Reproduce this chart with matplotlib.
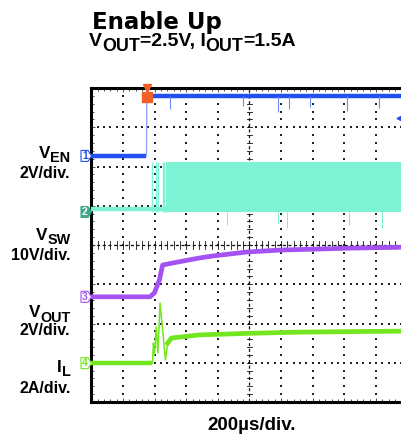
import numpy as np
import matplotlib
matplotlib.use("Agg")
import matplotlib.pyplot as plt
from matplotlib.patches import Polygon

# ---------------- data (in screen divisions) ----------------
# CH1 V_EN (2V/div)
ch1_t = [0.0, 1.74, 1.75, 10.3]
ch1_v = [6.27, 6.27, 7.80, 7.80]
ch1_spike_t = [2.47, 4.78, 5.89, 6.25, 6.90, 8.10, 9.10]
ch1_spike_v = [7.47, 7.55, 7.39, 7.46, 7.52, 7.42, 7.50]

# CH2 V_SW (10V/div)
ch2_base = 4.92
ch2_low = 4.84
ch2_high = 6.11
ch2_sparse_t = [1.90, 2.03, 2.12, 2.25, 2.31, 2.37]
ch2_dense_start = 2.40
ch2_spike_t = [4.30, 5.89, 6.20, 8.16, 9.20]
ch2_spike_v = [4.51, 4.56, 4.43, 4.51, 4.43]

# CH3 V_OUT (2V/div)
ch3_t = [0.0, 1.85, 1.99, 2.15, 2.25, 2.56, 3.42, 3.83, 4.90, 5.95, 8.20, 10.3]
ch3_v = [2.68, 2.68, 2.78, 3.11, 3.49, 3.54, 3.67, 3.72, 3.82, 3.87, 3.92, 3.95]

# CH4 I_L (2A/div)
ch4_t = [0.0, 1.93, 1.96, 1.99, 2.05, 2.10, 2.17, 2.22, 2.28, 2.34, 2.41, 2.53, 3.42, 5.00, 6.60, 10.3]
ch4_v = [0.99, 0.99, 1.50, 1.20, 1.91, 1.25, 2.52, 2.10, 1.58, 1.07, 1.50, 1.63, 1.71, 1.75, 1.78, 1.81]

ch_offsets = [6.27, 4.84, 2.68, 0.99]
ch_names = ["1", "2", "3", "4"]
trigger_t = 1.77
trigger_level = 7.24

BLUE = "#2350f0"
CYAN = "#7ef3d3"
PURPLE = "#a552f2"
GREEN = "#72e61e"
ORANGE = "#f2602a"

W, H = 402, 434
fig = plt.figure(figsize=(W / 100, H / 100), dpi=100)

X0, Y0 = 91.5, 402.0
DX, DY = 31.6, 39.25
ax = fig.add_axes([X0 / W, (H - Y0) / H, 10 * DX / W, 8 * DY / H])
ax.set_xlim(0, 10)
ax.set_ylim(0, 8)
for s in ax.spines.values():
    s.set_linewidth(2.2)
    s.set_color("black")
ax.set_xticks(np.arange(0, 10.01, 1))
ax.set_yticks(np.arange(0, 8.01, 1))
ax.set_xticks(np.arange(0, 10.01, 0.2), minor=True)
ax.set_yticks(np.arange(0, 8.01, 0.2), minor=True)
ax.tick_params(which="both", direction="in", top=True, bottom=True, left=True, right=False,
               labelbottom=False, labelleft=False, length=2.2, width=0.6, color="#333333")
ax.tick_params(which="major", length=3.0)

# grid dots
gx = np.arange(0, 10.01, 0.2)
gy = np.arange(0, 8.01, 0.2)
for i in range(1, 10):
    if i == 5:
        continue
    ax.scatter(np.full_like(gy, i), gy, s=0.9, marker="s", color="#222222", linewidths=0, zorder=1)
for j in range(1, 8):
    if j == 4:
        continue
    ax.scatter(gx, np.full_like(gx, j), s=0.9, marker="s", color="#222222", linewidths=0, zorder=1)
# centre lines with cross ticks
ax.plot([5, 5], [0, 8], color="#111111", lw=0.9, ls=(0, (2.5, 2)), zorder=1)
ax.plot([0, 10], [4, 4], color="#111111", lw=0.9, ls=(0, (2.5, 2)), zorder=1)
for yv in gy:
    ax.plot([4.93, 5.07], [yv, yv], color="#111111", lw=0.6, zorder=1)
for xv in gx:
    ax.plot([xv, xv], [3.91, 4.09], color="#111111", lw=0.6, zorder=1)

# CH2 switching
ax.plot([0, ch2_dense_start], [ch2_base, ch2_base], color=CYAN, lw=3.2, zorder=3, solid_capstyle="butt")
ax.fill_between([ch2_dense_start, 10.3], ch2_low, ch2_high, color=CYAN, lw=0, zorder=3)
ax.vlines(ch2_sparse_t, ch2_low, ch2_high, color=CYAN, lw=1.0, zorder=3)
ax.vlines(ch2_spike_t, ch2_spike_v, ch2_low, color=CYAN, lw=0.8, zorder=3)

# CH1
ax.plot(ch1_t[:2], ch1_v[:2], color=BLUE, lw=3.2, zorder=4, solid_capstyle="butt")
ax.plot(ch1_t[1:3], ch1_v[1:3], color="#8fa8ff", lw=1.0, zorder=4)
ax.plot(ch1_t[2:], ch1_v[2:], color=BLUE, lw=3.2, zorder=4, solid_capstyle="butt")
ax.vlines(ch1_spike_t, ch1_spike_v, ch1_v[-1], color="#6f8cff", lw=0.8, zorder=4)

# CH3
ax.plot(ch3_t, ch3_v, color=PURPLE, lw=3.4, zorder=4, solid_joinstyle="round")

# CH4
ax.plot(ch4_t[:2], ch4_v[:2], color=GREEN, lw=3.2, zorder=4, solid_capstyle="butt")
ax.plot(ch4_t[1:11], ch4_v[1:11], color=GREEN, lw=1.1, zorder=4)
ax.plot(ch4_t[10:], ch4_v[10:], color=GREEN, lw=3.4, zorder=4, solid_joinstyle="round")

# trigger markers
ax.plot([trigger_t], [8.0], marker="v", ms=5.5, color=ORANGE, clip_on=False, zorder=6)
ax.plot([trigger_t], [7.78], marker="s", ms=6.5, color=ORANGE, clip_on=False, zorder=6)
ax.plot([9.73], [trigger_level], marker="<", ms=3.5, color=BLUE, clip_on=False, zorder=6)


def fx(px):
    return px / W


def fy(py):
    return (H - py) / H


# channel ground markers
mk_colors = [BLUE, "#3aa98a", PURPLE, GREEN]
mk_filled = [False, True, False, False]
for name, off, c, filled in zip(ch_names, ch_offsets, mk_colors, mk_filled):
    py = Y0 - off * DY
    pts = [(81, py - 5.5), (88, py - 5.5), (91.5, py), (88, py + 5.5), (81, py + 5.5)]
    poly = Polygon([(fx(a), fy(b)) for a, b in pts], closed=True, transform=fig.transFigure,
                   facecolor=c if filled else "white", edgecolor=c, lw=0.8, zorder=7)
    fig.add_artist(poly)
    fig.text(fx(85.0), fy(py + 0.3), name, color="white" if filled else c, fontsize=7.5,
             fontweight="bold", ha="center", va="center", family="Liberation Sans", zorder=8)

# ---------------- text ----------------
renderer = fig.canvas.get_renderer()
FAM = "Liberation Sans"


def draw_runs(x, y_base, parts, ha="left", weight="bold", family=FAM):
    widths = []
    for txt, size, dy in parts:
        t = fig.text(0, 0, txt, fontsize=size, fontweight=weight, family=family)
        widths.append(t.get_window_extent(renderer).width)
        t.remove()
    total = sum(widths)
    cur = x - total if ha == "right" else x
    for (txt, size, dy), w in zip(parts, widths):
        fig.text(fx(cur), fy(y_base + dy), txt, fontsize=size, fontweight=weight,
                 family=family, va="baseline", ha="left")
        cur += w


fig.text(fx(92), fy(29), "Enable Up", fontsize=16.5, fontweight="bold", family="DejaVu Sans",
         va="baseline", ha="left")
SUB = 14.0
draw_runs(89, 46, [("V", SUB, 0), ("OUT", SUB * 0.92, 5), ("=2.5V, I", SUB, 0),
                   ("OUT", SUB * 0.92, 5), ("=1.5A", SUB, 0)])

LS = 11.5
RX = 70.5
draw_runs(RX, 158, [("V", LS + 0.8, 0), ("EN", LS * 0.9, 4.5)], ha="right")
draw_runs(RX, 178, [("2V/div.", LS, 0)], ha="right")
draw_runs(RX, 240, [("V", LS + 0.8, 0), ("SW", LS * 0.9, 4.5)], ha="right")
draw_runs(RX, 260, [("10V/div.", LS, 0)], ha="right")
draw_runs(RX, 317, [("V", LS + 0.8, 0), ("OUT", LS * 0.9, 4.5)], ha="right")
draw_runs(RX, 335, [("2V/div.", LS, 0)], ha="right")
draw_runs(RX, 372, [("I", LS + 0.8, 0), ("L", LS * 0.9, 4.5)], ha="right")
draw_runs(RX, 393, [("2A/div.", LS, 0)], ha="right")

fig.text(fx(252), fy(430), "200µs/div.", fontsize=13.5, fontweight="bold", family=FAM,
         va="baseline", ha="center")

fig.savefig("out.png", dpi=100)
